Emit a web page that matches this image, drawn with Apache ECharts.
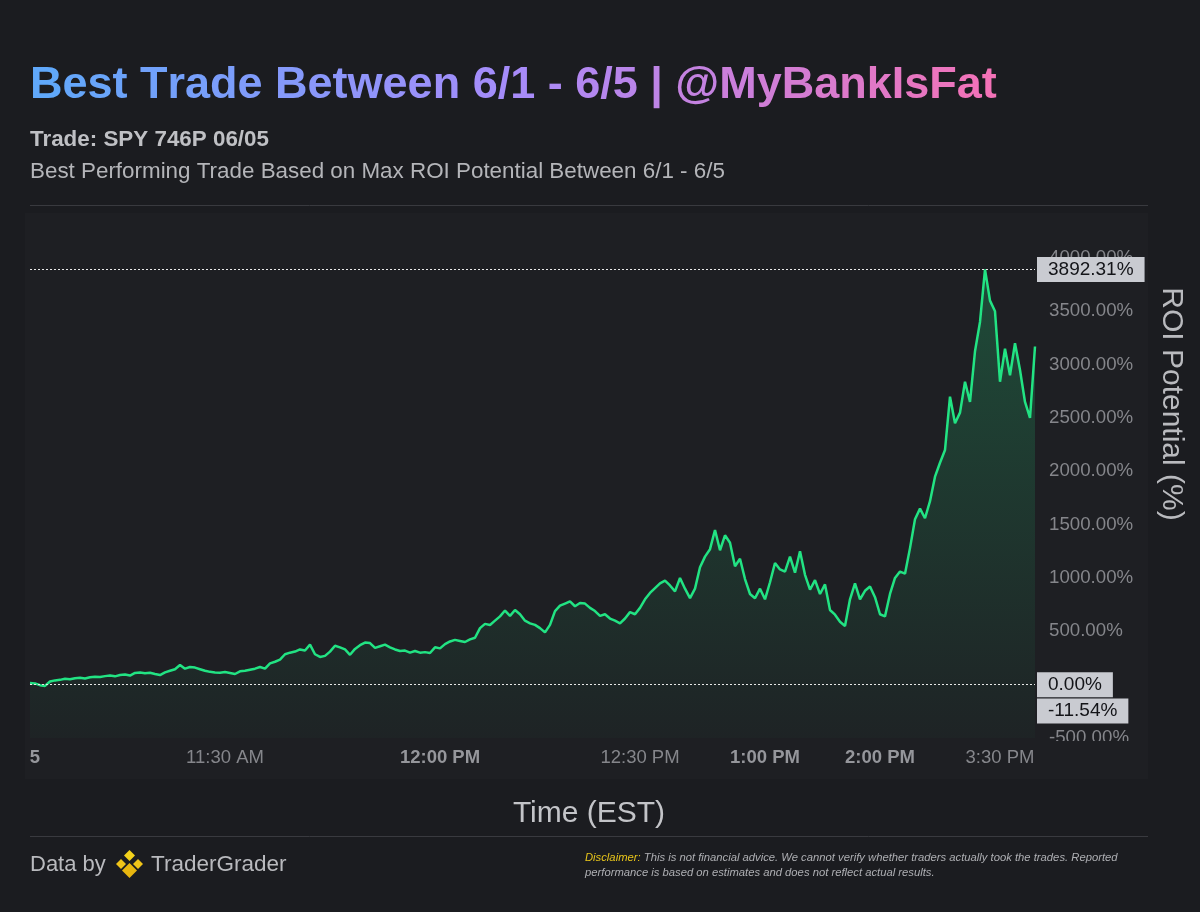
<!DOCTYPE html>
<html>
<head>
<meta charset="utf-8">
<script src="https://cdn.jsdelivr.net/npm/echarts@6/dist/echarts.min.js"></script>
<style>
  html, body { margin: 0; padding: 0; background: #1b1c20; }
  #chart { width: 1200px; height: 912px; }
</style>
</head>
<body>
<div id="chart"></div>
<script>
// ROI potential (%) samples, left to right
const roiValues = [
  15, 12, -5, -11.54, 30, 40, 45, 55, 50, 60,
  65, 58, 70, 75, 72, 80, 85, 78, 90, 95,
  85, 110, 115, 108, 112, 100, 90, 115, 130, 145,
  185, 150, 165, 160, 145, 130, 120, 115, 112, 118,
  110, 100, 125, 130, 140, 150, 165, 150, 200, 215,
  235, 285, 300, 310, 330, 320, 375, 285, 260, 270,
  310, 365, 350, 330, 280, 335, 370, 395, 390, 345,
  360, 375, 350, 330, 315, 320, 300, 315, 300, 305,
  297, 350, 340, 380, 405, 420, 410, 400, 425, 440,
  530, 570, 560, 600, 640, 695, 645, 700, 660, 600,
  575, 560, 530, 490, 560, 690, 740, 760, 780, 735,
  765, 760, 720, 690, 645, 660, 620, 600, 575, 620,
  680, 660, 720, 800, 860, 905, 950, 975, 930, 875,
  1000, 900, 812, 900, 1100, 1200, 1270, 1450, 1260, 1400,
  1330, 1110, 1180, 990, 850, 810, 900, 800, 960, 1140,
  1080, 1060, 1200, 1050, 1250, 1030, 890, 980, 850, 940,
  700, 656, 590, 550, 800, 950, 800, 880, 920, 820,
  660, 640, 850, 1000, 1060, 1040, 1280, 1550, 1650, 1560,
  1720, 1950, 2080, 2200, 2700, 2450, 2550, 2840, 2650, 3125,
  3400, 3892.31, 3600, 3500, 2840, 3150, 2900, 3200, 2950, 2650,
  2500, 3170
];
// category = sample number
const samples = roiValues.map((_, i) => String(i));
// x tick labels and the sample each one belongs to
const tickLabels = ['5', '11:30 AM', '12:00 PM', '12:30 PM', '1:00 PM', '2:00 PM', '3:30 PM'];
const tickSamples = [1, 39, 82, 122, 147, 170, 194];

const titleText = 'Best Trade Between 6/1 - 6/5 | @MyBankIsFat';
const tradeText = 'Trade: SPY 746P 06/05';
const subText = 'Best Performing Trade Based on Max ROI Potential Between 6/1 - 6/5';
const xName = 'Time (EST)';
const yName = 'ROI Potential (%)';

const FONT = '"Liberation Sans", Arial, Helvetica, sans-serif';
const chart = echarts.init(document.getElementById('chart'), null, { renderer: 'canvas' });

function isMajor(label) {
  return /^\d+$/.test(label) || /:00 /.test(label);
}

// gradient title built as per-character rich text
const TITLE_SIZE = 45;
const gradStops = [[0, [94, 169, 250]], [0.5, [167, 139, 250]], [1, [244, 114, 182]]];
function gradColor(t) {
  for (let i = 0; i < gradStops.length - 1; i++) {
    const [t0, c0] = gradStops[i], [t1, c1] = gradStops[i + 1];
    if (t <= t1) {
      const f = (t - t0) / (t1 - t0);
      return 'rgb(' + c0.map((c, k) => Math.round(c + (c1[k] - c) * f)).join(',') + ')';
    }
  }
  return 'rgb(' + gradStops[gradStops.length - 1][1].join(',') + ')';
}
const measureCtx = document.createElement('canvas').getContext('2d');
measureCtx.font = 'bold ' + TITLE_SIZE + 'px ' + FONT;
const totalW = measureCtx.measureText(titleText).width;
const titleRich = {};
let titleRichText = '';
Array.from(titleText).forEach((ch, i) => {
  const pre = measureCtx.measureText(titleText.slice(0, i)).width;
  const w = measureCtx.measureText(ch).width;
  const key = 'c' + i;
  titleRich[key] = { fill: gradColor((pre + w / 2) / totalW), fontSize: TITLE_SIZE, fontWeight: 'bold', fontFamily: FONT };
  titleRichText += '{' + key + '|' + ch + '}';
});

const option = {
  backgroundColor: '#1b1c20',
  animation: false,
  textStyle: { fontFamily: FONT },
  grid: { left: 30, right: 165, top: 215.3, bottom: 174, containLabel: false },
  xAxis: {
    type: 'category',
    data: samples,
    boundaryGap: false,
    axisLine: { show: false },
    axisTick: { show: false },
    splitLine: { show: false },
    axisLabel: {
      margin: 10,
      fontSize: 18.5,
      color: '#85868b',
      fontFamily: FONT,
      interval: (index) => tickSamples.indexOf(index) >= 0,
      formatter: (value, index) => {
        const k = tickSamples.indexOf(Number(value));
        if (k < 0) return '';
        const t = tickLabels[k];
        return isMajor(t) ? '{b|' + t + '}' : t;
      },
      rich: { b: { fontWeight: 'bold', fontSize: 18.5, color: '#95969b', fontFamily: FONT } }
    }
  },
  yAxis: {
    type: 'value',
    position: 'right',
    min: -500,
    max: 4400,
    interval: 500,
    axisLine: { show: false },
    axisTick: { show: false },
    splitLine: { show: false },
    axisLabel: {
      margin: 14,
      fontSize: 18.7,
      color: '#85868b',
      fontFamily: FONT,
      showMaxLabel: false,
      formatter: (v) => (v % 500 === 0 ? v.toFixed(2) + '%' : '')
    }
  },
  series: [{
    type: 'line',
    data: roiValues,
    showSymbol: false,
    symbol: 'none',
    lineStyle: { color: '#22e383', width: 2.5 },
    itemStyle: { color: '#22e383' },
    areaStyle: {
      origin: 'start',
      color: new echarts.graphic.LinearGradient(0, 0, 0, 1, [
        { offset: 0, color: 'rgba(34,227,131,0.32)' },
        { offset: 1, color: 'rgba(34,227,131,0.03)' }
      ])
    },
    z: 3,
    markLine: {
      silent: true,
      symbol: ['none', 'none'],
      precision: 2,
      lineStyle: { color: '#e8e8e8', type: [2, 2], width: 1 },
      label: {
        position: 'end',
        distance: 2,
        fontSize: 19,
        fontFamily: FONT,
        color: '#131418',
        backgroundColor: '#c9cbd1',
        padding: [3, 11, 3, 11],
        formatter: (p) => Number(p.value).toFixed(2) + '%'
      },
      data: [
        { type: 'max' },
        { yAxis: 0 },
        {
          type: 'min',
          lineStyle: { color: 'rgba(0,0,0,0)' },
          label: {
            show: true, position: 'end', distance: 2, offset: [0, 25],
            fontSize: 19, fontFamily: FONT, color: '#131418',
            backgroundColor: '#c9cbd1', padding: [3, 11, 3, 11]
          }
        }
      ]
    }
  }],
  graphic: {
    elements: [
      { type: 'rect', z: -100, shape: { x: 25, y: 213, width: 1123, height: 566 }, style: { fill: '#1e1f23' } },
      { type: 'rect', z: 100, shape: { x: 1040, y: 741, width: 108, height: 36 }, style: { fill: '#1e1f23' } },
      {
        type: 'text', x: 30, y: 86,
        style: {
          text: titleRichText, rich: titleRich,
          fontSize: TITLE_SIZE, fontWeight: 'bold', fontFamily: FONT,
          verticalAlign: 'middle', fill: '#a78bfa'
        }
      },
      { type: 'text', x: 30, y: 140, style: { text: tradeText, fontSize: 22.4, fontWeight: 'bold', fontFamily: FONT, fill: '#bfc0c4', verticalAlign: 'middle' } },
      { type: 'text', x: 30, y: 172, style: { text: subText, fontSize: 22.4, fontFamily: FONT, fill: '#b4b5b9', verticalAlign: 'middle' } },
      { type: 'line', shape: { x1: 30, y1: 205.5, x2: 1148, y2: 205.5 }, style: { stroke: '#393a3f', lineWidth: 1 } },
      { type: 'line', shape: { x1: 30, y1: 836.5, x2: 1148, y2: 836.5 }, style: { stroke: '#393a3f', lineWidth: 1 } },
      { type: 'text', x: 589, y: 814, style: { text: xName, fontSize: 30, fontFamily: FONT, fill: '#c3c4c8', align: 'center', verticalAlign: 'middle' } },
      { type: 'text', x: 1171, y: 404, rotation: -Math.PI / 2, style: { text: yName, fontSize: 30, fontFamily: FONT, fill: '#b9babe', align: 'center', verticalAlign: 'middle' } },
      { type: 'text', x: 30, y: 865, style: { text: 'Data by', fontSize: 22, fontFamily: FONT, fill: '#b9babe', verticalAlign: 'middle' } },
      { type: 'polygon', shape: { points: [[129.5, 850], [135, 855.5], [129.5, 861], [124, 855.5]] }, style: { fill: '#f3d21c' } },
      { type: 'polygon', shape: { points: [[121, 859], [126, 864], [121, 869], [116, 864]] }, style: { fill: '#f0c419' } },
      { type: 'polygon', shape: { points: [[138, 859], [143, 864], [138, 869], [133, 864]] }, style: { fill: '#f0c419' } },
      { type: 'polygon', shape: { points: [[129.5, 863], [137, 870.5], [129.5, 878], [122, 870.5]] }, style: { fill: '#e8b60f' } },
      { type: 'text', x: 151, y: 865, style: { text: 'TraderGrader', fontSize: 22.5, fontFamily: FONT, fill: '#b9babe', verticalAlign: 'middle' } },
      {
        type: 'text', x: 585, y: 850,
        style: {
          text: '{y|Disclaimer:} This is not financial advice. We cannot verify whether traders actually took the trades. Reported\nperformance is based on estimates and does not reflect actual results.',
          fontSize: 11.25, fontStyle: 'italic', fontFamily: FONT, fill: '#aeafb3', lineHeight: 15,
          rich: { y: { fill: '#e8c51a', fontStyle: 'italic', fontSize: 11.25, fontFamily: FONT } }
        }
      }
    ]
  }
};
chart.setOption(option);
</script>
</body>
</html>
